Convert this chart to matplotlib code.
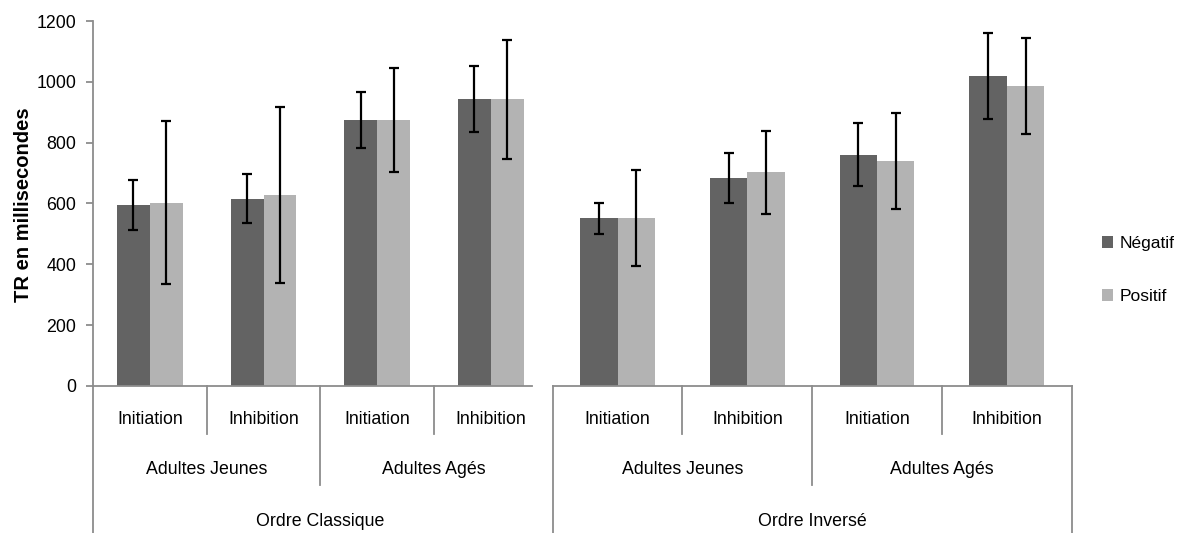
"""Temps de réaction par ordre, âge et condition - barres groupées façon Excel"""

import matplotlib.pyplot as plt
import matplotlib.transforms as mtrans
import numpy as np

plt.rcParams['font.family'] = ['Liberation Sans', 'DejaVu Sans']

conditions = ['Initiation', 'Inhibition', 'Initiation', 'Inhibition']
ages = ['Adultes Jeunes', 'Adultes Agés']
ordres = ['Ordre Classique', 'Ordre Inversé']
series = ['Négatif', 'Positif']

# ordre classique
classique_neg = [596, 616, 874, 943]
classique_pos = [603, 628, 874, 943]
classique_neg_err = [82, 80, 92, 108]
classique_pos_err = [269, 288, 170, 196]

# ordre inversé
inverse_neg = [551, 684, 760, 1019]
inverse_pos = [551, 702, 741, 987]
inverse_neg_err = [52, 82, 104, 142]
inverse_pos_err = [158, 136, 158, 157]

yticks = [0, 200, 400, 600, 800, 1000, 1200]

NEG_COLOR = '#636363'
POS_COLOR = '#b3b3b3'
AXIS_COLOR = '#8c8c8c'
BAR_W = 0.288
FS = 12.8


def draw_bars(ax, neg, pos, neg_err, pos_err):
    x = np.arange(len(neg)) + 0.5
    err_kw = dict(ecolor='black', elinewidth=1.6, capsize=3.6, capthick=1.6)
    ax.bar(x - BAR_W / 2, neg, BAR_W, color=NEG_COLOR, yerr=neg_err,
           error_kw=err_kw, label=series[0], zorder=2)
    ax.bar(x + BAR_W / 2, pos, BAR_W, color=POS_COLOR, yerr=pos_err,
           error_kw=err_kw, label=series[1], zorder=2)
    ax.set_ylim(0, 1200)
    for s in ['top', 'right']:
        ax.spines[s].set_visible(False)
    ax.spines['bottom'].set_color(AXIS_COLOR)
    ax.spines['bottom'].set_linewidth(1.3)
    ax.set_xticks([])


def draw_categories(ax, ordre, right_edge=True):
    """multi-level category labels under the axis"""
    tr = mtrans.blended_transform_factory(ax.transData, ax.transAxes)
    line_kw = dict(color=AXIS_COLOR, lw=1.3, transform=tr, clip_on=False)
    # level 1 labels
    for i, lab in enumerate(conditions):
        ax.text(i + 0.5, -0.093, lab, transform=tr, ha='center', va='center',
                fontsize=FS)
    for i in [1, 3]:
        ax.plot([i, i], [0, -0.1315], **line_kw)
    # level 2 labels
    for j, lab in enumerate(ages):
        ax.text(2 * j + 1, -0.230, lab, transform=tr, ha='center',
                va='center', fontsize=FS)
    ax.plot([2, 2], [0, -0.271], **line_kw)
    # level 3
    ax.text(2, -0.372, ordre, transform=tr, ha='center', va='center',
            fontsize=FS)
    ax.plot([0, 0], [0, -0.41], **line_kw)
    if right_edge:
        ax.plot([4, 4], [0, -0.41], **line_kw)


fig = plt.figure(figsize=(11.82, 5.33), dpi=100)

bottom = 1 - 386 / 533
height = 365 / 533

# left chart (cropped on its right side like the original)
ax1 = fig.add_axes([93 / 1182, bottom, 439 / 1182, height])
draw_bars(ax1, classique_neg, classique_pos, classique_neg_err,
          classique_pos_err)
ax1.set_xlim(0, 439 / 113.67)
ax1.spines['left'].set_color(AXIS_COLOR)
ax1.spines['left'].set_linewidth(1.3)
ax1.set_yticks(yticks)
ax1.tick_params(axis='y', direction='out', length=5, width=1.3,
                color=AXIS_COLOR, labelsize=12.8, pad=7)
draw_categories(ax1, ordres[0], right_edge=False)

# right chart
ax2 = fig.add_axes([552.7 / 1182, bottom, 519 / 1182, height])
draw_bars(ax2, inverse_neg, inverse_pos, inverse_neg_err, inverse_pos_err)
ax2.set_xlim(0, 4)
ax2.spines['left'].set_visible(False)
ax2.set_yticks([])
draw_categories(ax2, ordres[1])

fig.text(24 / 1182, 1 - 205 / 533, 'TR en millisecondes', rotation=90,
         ha='center', va='center', fontsize=14.5, fontweight='bold')

handles, labels = ax2.get_legend_handles_labels()
leg = fig.legend(handles, labels, loc='center left',
                 bbox_to_anchor=(1086 / 1182, 1 - 270 / 533), frameon=False,
                 fontsize=12.5, handlelength=0.65, handleheight=0.65,
                 handletextpad=0.4, labelspacing=2.2)

fig.savefig('out.png', dpi=100)
